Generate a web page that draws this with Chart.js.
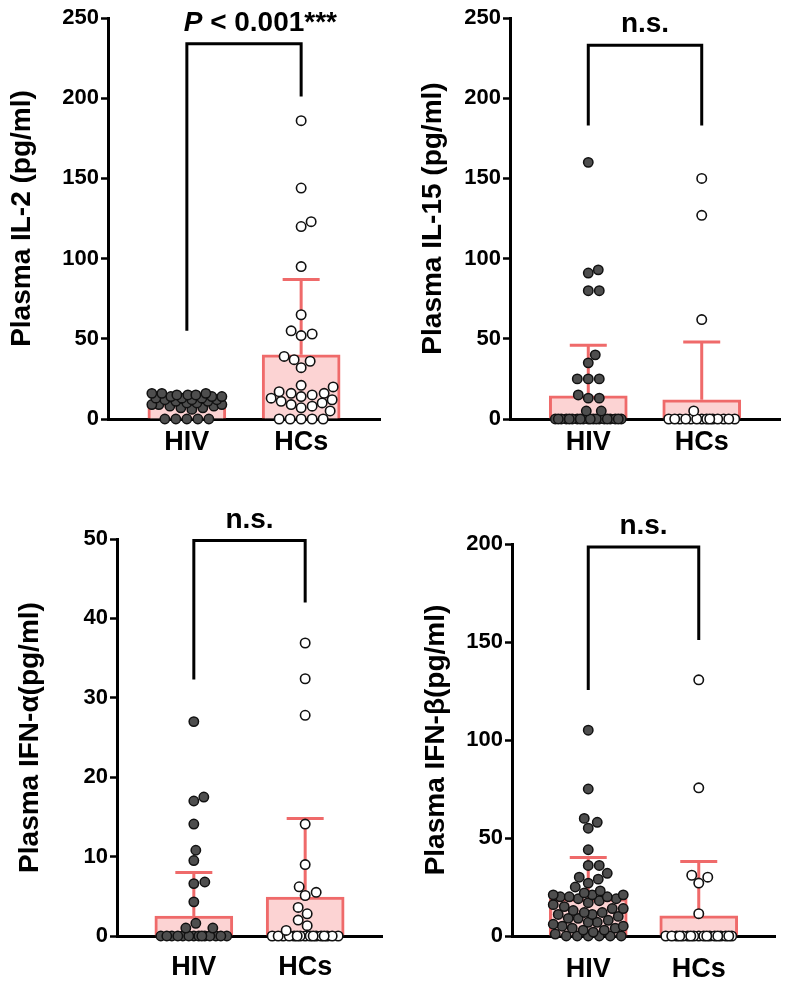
<!DOCTYPE html>
<html>
<head>
<meta charset="utf-8">
<script src="https://cdn.jsdelivr.net/npm/chart.js@4.4.1/dist/chart.umd.min.js"></script>
<style>
  body { margin: 0; background: #fff; width: 787px; height: 989px; position: relative; overflow: hidden; }
  canvas { position: absolute; }
</style>
</head>
<body>
<canvas id="il2" width="393" height="475" style="left:0;top:0"></canvas>
<canvas id="il15" width="394" height="475" style="left:393px;top:0"></canvas>
<canvas id="ifna" width="393" height="514" style="left:0;top:475px"></canvas>
<canvas id="ifnb" width="394" height="514" style="left:393px;top:475px"></canvas>
<script>
const groups = ['HIV', 'HCs'];

// IL-2
const il2Hiv = [0, 0, 0, 0, 0, 6, 7, 7, 8, 8, 9, 9, 9, 10, 10, 11, 11, 12, 12, 12, 13, 13, 13, 14, 14, 14, 15, 15, 15, 16, 16, 16];
const il2Hcs = [0, 0, 0, 0, 0, 5, 7, 8, 9, 10, 11, 12, 13, 14, 15, 16, 16, 17, 20, 21, 32, 36, 37, 39, 52, 53, 55, 65, 95, 120, 123, 144, 186];
const il2Mean = [10, 40];
const il2Sd = [3.5, 47];
const il2Bracket = [234, 55, 201];

// IL-15
const il15Hiv = [0, 0, 0, 0, 0, 0, 0, 0, 0, 0, 0, 0, 0, 0, 0, 0, 0, 0, 0, 0, 5, 5, 13, 13, 15, 25, 25, 25, 35, 40, 80, 80, 91, 93, 160];
const il15Hcs = [0, 0, 0, 0, 0, 0, 0, 0, 0, 0, 0, 0, 0, 0, 5, 62, 127, 150];
const il15Mean = [14.5, 12];
const il15Sd = [31.5, 36];
const il15Bracket = [233, 183, 183];

// IFN-alpha
const ifnaHiv = [0, 0, 0, 0, 0, 0, 0, 0, 0, 0, 0, 0, 0, 0, 1.0, 1.0, 1.6, 4.3, 6.6, 6.8, 9.5, 10.8, 14.1, 17, 17.5, 27];
const ifnaHcs = [0, 0, 0, 0, 0, 0, 0, 0, 0, 0, 0, 0, 0, 0, 0, 0, 0.7, 1.3, 2.0, 2.8, 3.6, 5.1, 5.5, 6.2, 9.0, 14.1, 27.8, 32.4, 36.9];
const ifnaMean = [2.5, 4.9];
const ifnaSd = [5.5, 9.9];
const ifnaBracket = [49.8, 32.3, 42];

// IFN-beta
const ifnbHiv = [0, 0, 0, 0, 0, 0, 1, 2, 3, 3, 4, 4, 5, 5, 6, 7, 7, 8, 9, 9, 10, 11, 11, 12, 12, 13, 14, 14, 15, 16, 17, 18, 19, 19,
  20, 20, 20, 21, 21, 21, 22, 23, 25, 27, 29, 30, 32, 36, 36, 44, 55, 58, 60, 75, 105];
const ifnbHcs = [0, 0, 0, 0, 0, 0, 0, 0, 0, 0, 0, 0, 0, 0, 0, 0, 0, 0, 11.4, 27, 30, 31, 75.6, 130.7];
const ifnbMean = [19, 10.3];
const ifnbSd = [21, 27.7];
const ifnbBracket = [198.5, 125.5, 151];

const FONT = "'Liberation Sans', Arial, sans-serif";
const BAR_FILL = '#fcd3d3';
const BAR_LINE = '#ef6a6a';
const SPREAD = 35;   // max half-width of the swarm, px
const GAP = 10.5;    // min distance between dot centres, px

const panels = [
  { id: 'il2', title: 'Plasma IL-2 (pg/ml)', hiv: il2Hiv, hcs: il2Hcs, mean: il2Mean, sd: il2Sd, max: 250, step: 50,
    bracket: il2Bracket, sig: 'P < 0.001***', box: { left: 108, right: 13, top: 18, xh: 56, titlePad: 5, xPad: 7 } },
  { id: 'il15', title: 'Plasma IL-15 (pg/ml)', hiv: il15Hiv, hcs: il15Hcs, mean: il15Mean, sd: il15Sd, max: 250, step: 50,
    bracket: il15Bracket, sig: 'n.s.', box: { left: 117, right: 7, top: 18, xh: 56, titlePad: 23, xPad: 7 } },
  { id: 'ifna', title: 'Plasma IFN-α(pg/ml)', hiv: ifnaHiv, hcs: ifnaHcs, mean: ifnaMean, sd: ifnaSd, max: 50, step: 10,
    bracket: ifnaBracket, sig: 'n.s.', box: { left: 117, right: 11, top: 64, xh: 53, titlePad: 13, xPad: 15 } },
  { id: 'ifnb', title: 'Plasma IFN-β(pg/ml)', hiv: ifnbHiv, hcs: ifnbHcs, mean: ifnbMean, sd: ifnbSd, max: 200, step: 50,
    bracket: ifnbBracket, sig: 'n.s.', box: { left: 119, right: 12, top: 69, xh: 53, titlePad: 26, xPad: 17 } }
];

// mean + SD whiskers, drawn right after the bars so dots sit on top
const errorBars = {
  id: 'errorBars',
  afterDatasetDraw(chart, args, opts) {
    if (args.index !== 0) return;
    const { ctx, scales: { x, y } } = chart;
    ctx.save();
    ctx.strokeStyle = BAR_LINE;
    ctx.lineWidth = 3;
    opts.mean.forEach((m, i) => {
      const px = x.getPixelForValue(i + 1);
      const top = y.getPixelForValue(m + opts.sd[i]);
      ctx.beginPath();
      ctx.moveTo(px, y.getPixelForValue(m));
      ctx.lineTo(px, top);
      ctx.moveTo(px - 18.5, top);
      ctx.lineTo(px + 18.5, top);
      ctx.stroke();
    });
    ctx.restore();
  }
};

// significance bracket and label
const bracket = {
  id: 'bracket',
  afterDraw(chart, args, opts) {
    const { ctx, scales: { x, y } } = chart;
    const [topV, leftV, rightV] = opts.values;
    const x1 = x.getPixelForValue(1), x2 = x.getPixelForValue(2);
    const yt = y.getPixelForValue(topV);
    ctx.save();
    ctx.strokeStyle = '#000';
    ctx.lineWidth = 3;
    ctx.lineJoin = 'miter';
    ctx.beginPath();
    ctx.moveTo(x1, y.getPixelForValue(leftV));
    ctx.lineTo(x1, yt);
    ctx.lineTo(x2, yt);
    ctx.lineTo(x2, y.getPixelForValue(rightV));
    ctx.stroke();

    const text = opts.text;
    const base = yt - 13;
    const cx = (x1 + x2) / 2;
    ctx.fillStyle = '#000';
    ctx.textBaseline = 'alphabetic';
    ctx.textAlign = 'left';
    const bold = 'bold 28px ' + FONT;
    const ital = 'italic bold 28px ' + FONT;
    if (text.startsWith('P ')) {
      const rest = text.slice(1);
      const core = rest.replace(/\*+$/, '');
      ctx.font = ital;
      const wp = ctx.measureText('P').width;
      ctx.font = bold;
      const wc = ctx.measureText(core).width;
      const sx = cx - (wp + wc) / 2;
      ctx.font = ital;
      ctx.fillText('P', sx, base);
      ctx.font = bold;
      ctx.fillText(rest, sx + wp, base);
    } else {
      ctx.font = bold;
      ctx.textAlign = 'center';
      ctx.fillText(text, cx, base);
    }
    ctx.restore();
  }
};

// simple beeswarm: lowest values first, each dot at the nearest free offset
function swarm(vals, chart, center) {
  const ys = chart.scales.y, xs = chart.scales.x;
  const cx = xs.getPixelForValue(center);
  const order = vals.map((v, i) => i).sort((a, b) => vals[a] - vals[b]);
  const placed = [];
  const out = new Array(vals.length);
  for (const i of order) {
    const py = ys.getPixelForValue(vals[i]);
    let pick = 0, best = -1;
    for (let k = 0; k <= 2 * SPREAD; k++) {
      const off = (k % 2 ? 1 : -1) * Math.ceil(k / 2);
      let gap = Infinity;
      for (const q of placed) gap = Math.min(gap, Math.hypot(q.x - off, q.y - py));
      if (gap >= GAP) { pick = off; break; }
      if (gap > best) { best = gap; pick = off; }
    }
    placed.push({ x: pick, y: py });
    out[i] = { x: xs.getValueForPixel(cx + pick), y: vals[i] };
  }
  return out;
}

panels.forEach(p => {
  const b = p.box;
  const chart = new Chart(document.getElementById(p.id), {
    type: 'bar',
    data: {
      datasets: [
        {
          type: 'bar',
          data: p.mean.map((m, i) => ({ x: i + 1, y: m })),
          backgroundColor: BAR_FILL,
          borderColor: BAR_LINE,
          borderWidth: 3,
          barThickness: 78,
          order: 3
        },
        {
          type: 'scatter',
          data: p.hiv.map(v => ({ x: 1, y: v })),
          pointRadius: 4.7,
          pointBackgroundColor: '#4e4e4e',
          pointBorderColor: '#111',
          pointBorderWidth: 1.5,
          clip: false,
          order: 2
        },
        {
          type: 'scatter',
          data: p.hcs.map(v => ({ x: 2, y: v })),
          pointRadius: 4.7,
          pointBackgroundColor: '#fff',
          pointBorderColor: '#111',
          pointBorderWidth: 1.6,
          clip: false,
          order: 1
        }
      ]
    },
    options: {
      responsive: false,
      animation: false,
      events: [],
      layout: { padding: { top: b.top, right: b.right, left: 0, bottom: 0 } },
      plugins: {
        legend: { display: false },
        tooltip: { enabled: false },
        errorBars: { mean: p.mean, sd: p.sd },
        bracket: { values: p.bracket, text: p.sig }
      },
      scales: {
        x: {
          type: 'linear',
          min: 0.31,
          max: 2.69,
          offset: false,
          grid: { display: false, drawTicks: false, offset: false },
          border: { display: true, color: '#000', width: 3 },
          afterBuildTicks: s => { s.ticks = [{ value: 1 }, { value: 2 }]; },
          afterFit: s => { s.height = b.xh; },
          ticks: {
            color: '#000',
            padding: b.xPad,
            autoSkip: false,
            maxRotation: 0,
            font: { family: FONT, size: 27, weight: 'bold' },
            callback: v => groups[v - 1]
          }
        },
        y: {
          min: 0,
          max: p.max,
          afterFit: s => { s.width = b.left; },
          grid: { drawOnChartArea: false, drawTicks: true, tickLength: 7, tickWidth: 2.5, tickColor: '#000' },
          border: { display: true, color: '#000', width: 3 },
          ticks: {
            stepSize: p.step,
            color: '#000',
            padding: 2,
            font: { family: FONT, size: 22, weight: 'bold' }
          },
          title: {
            display: true,
            text: p.title,
            color: '#000',
            padding: { top: b.titlePad, bottom: 0 },
            font: { family: FONT, size: 28, weight: 'bold' }
          }
        }
      }
    },
    plugins: [errorBars, bracket]
  });

  chart.data.datasets[1].data = swarm(p.hiv, chart, 1);
  chart.data.datasets[2].data = swarm(p.hcs, chart, 2);
  chart.update('none');
});
</script>
</body>
</html>
